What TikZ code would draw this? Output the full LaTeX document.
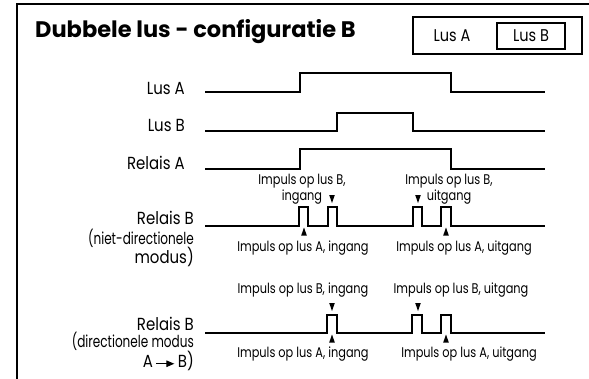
\documentclass[tikz,border=0pt]{standalone}
\usepackage{fontspec}
\setmainfont{Poppins}[FakeStretch=0.855]
\newfontfamily\notefont{Poppins}[FakeStretch=0.81]
\newfontfamily\narrowfont{Poppins}[FakeStretch=0.73]
\newfontfamily\headfont{Poppins}
\usetikzlibrary{arrows.meta}

\tikzset{
  wave/.style={line width=1.6pt, line join=miter},
  frameline/.style={line width=2.6pt},
  boxline/.style={line width=1.4pt},
  sig/.style={anchor=east, inner sep=0pt, font=\fontsize{17.5}{19.5}\selectfont},
  siggroup/.style={anchor=east, inner sep=0pt, align=right},
  note/.style={inner sep=0pt, align=center, font=\notefont\fontsize{14}{16}\selectfont},
  tridown/.pic={\fill (-2.8,-4) -- (2.8,-4) -- (0,4) -- cycle;},
  triup/.pic={\fill (-2.8,4) -- (2.8,4) -- (0,-4) -- cycle;},
}
% condensed setting for the long mode lines
\newcommand{\modeline}[1]{{\narrowfont\fontsize{16.5}{17}\selectfont #1}}

\begin{document}
\begin{tikzpicture}[x=1pt, y=-1pt]
\useasboundingbox (0,0) rectangle (589,378);
\begin{scope}
  \clip (0,0) rectangle (589,378);
  % outer frame, open at right and bottom edges
  \draw[frameline] (17,400) -- (17,4) -- (600,4);
\end{scope}

% heading
\node[anchor=base west, inner sep=0pt, font=\headfont\bfseries\fontsize{22.5}{26}\selectfont]
  (title) at (35,37) {Dubbele lus - configuratie B};

% legend
\node[draw, boxline, minimum width=169pt, minimum height=37pt, inner sep=0pt]
  (legend) at (497.5,35.5) {};
\node[draw, boxline, minimum width=68pt, minimum height=26pt, inner sep=0pt,
  font=\fontsize{17}{19}\selectfont] (legB) at (531,36) {Lus B};
\node[inner sep=0pt, font=\fontsize{17}{19}\selectfont] (legA) at (452,36) {Lus A};

% signal names
\node[sig] (nLusA) at (185,88) {Lus A};
\node[sig] (nLusB) at (185,125) {Lus B};
\node[sig] (nRelA) at (185,163) {Relais A};
\node[siggroup, font=\fontsize{17.5}{19.5}\selectfont] (nRelB1) at (194,239)
  {Relais B\\\modeline{(niet-directionele}\\modus)};
\node[siggroup, font=\fontsize{17.5}{17}\selectfont] (nRelB2) at (194,344)
  {Relais B\\\modeline{(directionele modus}\\A\,\tikz[baseline=-4pt]\draw[line width=1.1pt,-{Triangle[length=8pt,width=6.5pt]}] (0,0) -- (18pt,0);\,B)};

% waveforms
\draw[wave] (205,92) -| (300,73) -| (451,92) -- (545,92);
\draw[wave] (205,131) -| (337,113) -| (413,131) -- (545,131);
\draw[wave] (205,169) -| (300,149) -| (451,169) -- (545,169);
\draw[wave] (205,226) -| (299,207) -| (308,226) -| (328,207) -| (337,226)
  -| (413,207) -| (422,226) -| (441,207) -| (451,226) -- (545,226);
\draw[wave] (205,333) -| (327,315) -| (337,333)
  -| (412,315) -| (422,333) -| (441,315) -| (451,333) -- (545,333);

% pulse markers, non-directional mode
\pic at (332,199) {tridown};
\pic at (418,199) {tridown};
\pic at (304,231.5) {triup};
\pic at (446,231.5) {triup};
% pulse markers, directional mode
\pic at (332,307) {tridown};
\pic at (418,307) {tridown};
\pic at (332,338.5) {triup};
\pic at (446,338.5) {triup};

% pulse annotations
\node[note] (bIn1) at (302,189) {Impuls op lus B,\\ingang};
\node[note] (bOut1) at (449,189) {Impuls op lus B,\\uitgang};
\node[note] (aIn1) at (303,248) {Impuls op lus A, ingang};
\node[note] (aOut1) at (464,248) {Impuls op lus A, uitgang};
\node[note] (bIn2) at (303,290) {Impuls op lus B, ingang};
\node[note] (bOut2) at (461,290) {Impuls op lus B, uitgang};
\node[note] (aIn2) at (303,354) {Impuls op lus A, ingang};
\node[note] (aOut2) at (469,354) {Impuls op lus A, uitgang};
\end{tikzpicture}
\end{document}
